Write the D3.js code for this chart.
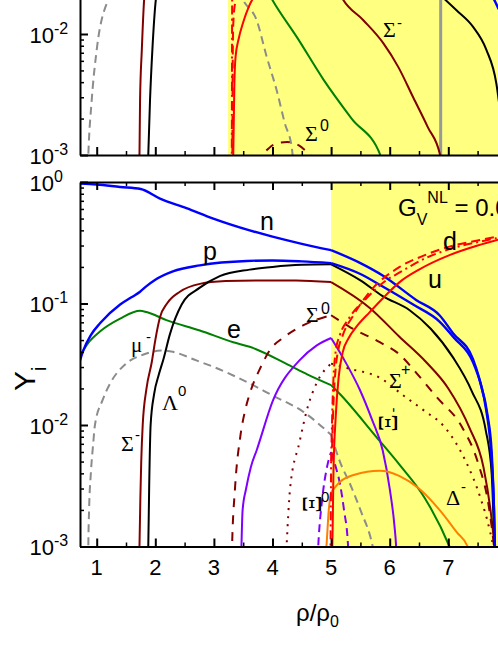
<!DOCTYPE html>
<html>
<head>
<meta charset="utf-8">
<script src="https://cdn.jsdelivr.net/npm/d3@7"></script>
<style>
  body { margin: 0; background: #fff; }
  svg { display: block; font-family: "Liberation Sans", Arial, sans-serif; }
</style>
</head>
<body>
<svg id="chart" width="498" height="645"></svg>
<script>
// ---- data: [rho/rho0, Y_i] ----

// lower panel (G_V^NL = 0.0)
const nData = [[0.715,0.97],[1.0,0.955],[1.4,0.91],[1.75,0.875],[2.08,0.73],[2.53,0.61],[2.99,0.5],[3.61,0.4],[4.0,0.355],[4.5,0.31],[5.0,0.275],[5.5,0.215],[5.88,0.17],[6.45,0.107],[6.85,0.08],[7.08,0.057],[7.42,0.035],[7.53,0.024],[7.65,0.013],[7.73,0.006],[7.78,0.002],[7.8,0.0008]];
const pData = [[0.715,0.034],[0.77,0.041],[0.9,0.055],[1.06,0.069],[1.4,0.098],[1.6,0.113],[1.74,0.125],[1.85,0.139],[2.0,0.157],[2.3,0.184],[2.76,0.206],[3.56,0.224],[4.0,0.226],[4.5,0.222],[5.0,0.215],[5.5,0.175],[5.88,0.138],[6.4,0.098],[6.85,0.071],[7.1,0.052],[7.42,0.033],[7.55,0.022],[7.67,0.012],[7.74,0.006],[7.78,0.002],[7.8,0.0008]];
const eData = [[0.715,0.037],[0.85,0.047],[1.06,0.059],[1.4,0.075],[1.74,0.087],[1.85,0.085],[2.19,0.073],[2.76,0.06],[3.33,0.048],[3.61,0.044],[4.23,0.032],[4.6,0.026],[5.0,0.0213],[5.15,0.018],[5.77,0.008],[6.17,0.0047],[6.6,0.0025],[7.02,0.001],[7.1,0.0008]];
const muData = [[0.855,0.0008],[0.857,0.001],[0.87,0.002],[0.9,0.004],[0.94,0.007],[0.97,0.01],[1.1,0.016],[1.23,0.022],[1.5,0.032],[1.8,0.038],[2.1,0.041],[2.3,0.04],[2.7,0.034],[3.0,0.03],[3.56,0.0226],[4.0,0.0175],[4.52,0.0129],[5.0,0.0083],[5.15,0.005],[5.32,0.0033],[5.5,0.002],[5.71,0.001],[5.75,0.0008]];
const lamData = [[1.875,0.0008],[1.88,0.001],[1.895,0.003],[1.92,0.01],[1.98,0.018],[2.06,0.026],[2.14,0.035],[2.25,0.056],[2.45,0.098],[2.76,0.135],[3.1,0.168],[3.61,0.19],[4.0,0.2],[4.5,0.208],[5.0,0.21],[5.5,0.155],[5.88,0.115],[6.34,0.088],[6.7,0.062],[7.08,0.036],[7.4,0.019],[7.64,0.009],[7.74,0.004],[7.79,0.001],[7.8,0.0008]];
const sigMData = [[1.725,0.0008],[1.73,0.001],[1.745,0.0025],[1.76,0.005],[1.785,0.01],[1.85,0.02],[1.94,0.033],[2.0,0.05],[2.08,0.077],[2.2,0.1],[2.42,0.125],[2.76,0.145],[3.2,0.153],[3.8,0.155],[4.4,0.155],[5.0,0.15],[5.66,0.092],[6.17,0.053],[6.62,0.033],[7.0,0.02],[7.36,0.0095],[7.6,0.0045],[7.72,0.002],[7.79,0.001],[7.81,0.0008]];
const sig0Data = [[3.305,0.0008],[3.31,0.001],[3.36,0.003],[3.45,0.008],[3.53,0.013],[3.61,0.018],[3.8,0.03],[3.95,0.041],[4.2,0.053],[4.52,0.066],[5.0,0.08],[5.32,0.064],[5.83,0.048],[6.17,0.038],[6.45,0.027],[6.8,0.017],[7.24,0.0095],[7.5,0.005],[7.7,0.002],[7.78,0.001],[7.8,0.0008]];
const sigPData = [[4.23,0.0008],[4.24,0.001],[4.3,0.003],[4.46,0.0072],[4.6,0.014],[4.75,0.022],[5.0,0.032],[5.32,0.029],[5.83,0.0245],[6.22,0.0177],[6.6,0.013],[6.93,0.0097],[7.3,0.005],[7.55,0.0025],[7.7,0.0014],[7.76,0.001],[7.78,0.0008]];
const xiMData = [[3.465,0.0008],[3.47,0.001],[3.49,0.002],[3.55,0.003],[3.63,0.0045],[3.73,0.0062],[4.01,0.016],[4.46,0.034],[4.75,0.045],[5.0,0.052],[5.26,0.032],[5.49,0.0195],[5.7,0.011],[5.88,0.0062],[6.0,0.003],[6.08,0.0015],[6.11,0.001],[6.12,0.0008]];
const xi0Data = [[4.77,0.0008],[4.78,0.001],[4.85,0.0025],[4.93,0.0045],[5.0,0.006],[5.08,0.0045],[5.15,0.0033],[5.22,0.002],[5.29,0.001],[5.3,0.0008]];
const deltaData = [[4.9,0.0008],[4.92,0.001],[4.96,0.002],[5.0,0.0028],[5.15,0.0034],[5.4,0.0039],[5.83,0.0042],[6.17,0.0038],[6.5,0.003],[6.85,0.002],[7.15,0.0013],[7.33,0.001],[7.37,0.0008]];
const uData = [[5.0,0.0008],[5.02,0.001],[5.04,0.004],[5.08,0.012],[5.13,0.025],[5.2,0.04],[5.3,0.052],[5.45,0.066],[5.66,0.085],[5.88,0.11],[6.17,0.15],[6.5,0.19],[7.02,0.25],[7.5,0.3],[7.9,0.34]];
const dData = [[4.99,0.0008],[4.995,0.001],[5.01,0.005],[5.04,0.015],[5.08,0.03],[5.12,0.041],[5.2,0.055],[5.38,0.08],[5.66,0.125],[6.17,0.2],[6.6,0.25],[7.02,0.294],[7.5,0.33],[7.9,0.36]];
const sData = [[4.985,0.0008],[4.99,0.001],[5.0,0.005],[5.03,0.018],[5.08,0.041],[5.15,0.055],[5.3,0.075],[5.6,0.11],[5.94,0.155],[6.17,0.18],[6.6,0.235],[7.02,0.28],[7.5,0.32],[7.9,0.35]];

// upper panel
const muTopRise = [[0.85,0.0008],[0.857,0.001],[0.915,0.00285],[1.0,0.0074],[1.2,0.0194],[1.25,0.022]];
const muTopFall = [[3.42,0.023],[3.5,0.019],[3.73,0.013],[3.9,0.0065],[4.07,0.00344],[4.21,0.00183],[4.33,0.00114],[4.36,0.0008]];
const sigMTopL = [[1.725,0.0008],[1.73,0.001],[1.74,0.00285],[1.77,0.0074],[1.81,0.0194],[1.83,0.024]];
const sigMTopR = [[5.1,0.024],[5.2,0.0194],[5.55,0.013],[5.89,0.0084],[6.15,0.0053],[6.4,0.003],[6.65,0.0017],[6.86,0.001],[6.9,0.0008]];
const lamTopL = [[1.875,0.0008],[1.88,0.001],[1.91,0.00285],[1.95,0.0074],[2.01,0.0194],[2.04,0.024]];
const lamTopR = [[6.86,0.021],[7.14,0.0157],[7.42,0.0115],[7.65,0.0074],[7.82,0.0039],[7.9,0.002]];
const eTop = [[3.95,0.021],[3.99,0.0194],[4.43,0.0092],[4.87,0.0042],[5.35,0.002],[5.84,0.001],[5.9,0.0008]];
const sig0Top = [[3.83,0.0008],[3.85,0.001],[3.95,0.00115],[4.1,0.00126],[4.25,0.00128],[4.45,0.0012],[4.6,0.00105],[4.65,0.001],[4.68,0.0008]];
const uTop = [[3.325,0.0008],[3.33,0.001],[3.34,0.002],[3.35,0.004],[3.37,0.0065],[3.42,0.009],[3.5,0.0125],[3.6,0.017],[3.7,0.021]];
const dTop = [[3.31,0.0008],[3.315,0.001],[3.32,0.005],[3.33,0.012],[3.36,0.018],[3.4,0.022]];
const sTop = [[3.305,0.0008],[3.308,0.003],[3.31,0.01],[3.312,0.022]];
const nTop = [[7.74,0.021],[7.8,0.0185],[7.86,0.016]];

const xTicks = [1, 2, 3, 4, 5, 6, 7];
const xMinor = [1.5, 2.5, 3.5, 4.5, 5.5, 6.5, 7.5];
const yTicksB = [1, 0.1, 0.01, 0.001];
const yTicksT = [0.01, 0.001];
const mixedStartB = 5.0;
const mixedStartT = 3.24;
const grayLineT = 6.87;

// ---- scales ----
const svg = d3.select("#chart");
const x = d3.scaleLinear().domain([0.715, 8]).range([80, 506.9]);
const yB = d3.scaleLog().domain([1e-3, 1]).range([546.5, 182]);
const yT = d3.scaleLog().domain([1e-3, 1e-1]).range([155, 155 - 242]);

const defs = svg.append("defs");
defs.append("clipPath").attr("id", "clipB").append("rect")
  .attr("x", 80).attr("y", 182).attr("width", 430).attr("height", 546.5 - 182);
defs.append("clipPath").attr("id", "clipT").append("rect")
  .attr("x", 80).attr("y", -100).attr("width", 430).attr("height", 255);

// yellow (mixed phase) areas
svg.append("rect").attr("x", x(mixedStartB)).attr("y", 182)
  .attr("width", 498 - x(mixedStartB)).attr("height", 546.5 - 182).attr("fill", "#ffff80");
svg.append("rect").attr("x", x(mixedStartT)).attr("y", 0)
  .attr("width", 498 - x(mixedStartT)).attr("height", 155).attr("fill", "#ffff80");

const BLUE = "#0000ff", MAROON = "#800000", GREEN = "#008000", GRAY = "#8c8c8c",
      PURPLE = "#8000ff", ORANGE = "#ff8000", RED = "#ff0000";

const seriesB = [
  { d: muData, c: GRAY, dash: "8,5" },
  { d: eData, c: GREEN },
  { d: xi0Data, c: PURPLE, dash: "8,5" },
  { d: xiMData, c: PURPLE },
  { d: deltaData, c: ORANGE },
  { d: sigPData, c: MAROON, dash: "2,6" },
  { d: sig0Data, c: MAROON, dash: "9,8" },
  { d: sigMData, c: MAROON },
  { d: lamData, c: "#000" },
  { d: pData, c: BLUE, w: 2.4 },
  { d: nData, c: BLUE, w: 2.4 },
  { d: sData, c: RED, dash: "9,4,2,4" },
  { d: dData, c: RED, dash: "9,5" },
  { d: uData, c: RED }
];

const seriesT = [
  { d: muTopRise, c: GRAY, dash: "8,5" },
  { d: muTopFall, c: GRAY, dash: "8,5" },
  { d: eTop, c: GREEN },
  { d: sig0Top, c: MAROON, dash: "9,8" },
  { d: sigMTopL, c: MAROON },
  { d: sigMTopR, c: MAROON },
  { d: lamTopL, c: "#000" },
  { d: lamTopR, c: "#000" },
  { d: nTop, c: BLUE, w: 2.4 },
  { d: sTop, c: RED, dash: "9,4,2,4" },
  { d: dTop, c: RED, dash: "9,5" },
  { d: uTop, c: RED }
];

function drawSeries(list, y, clip, split) {
  const g = svg.append("g").attr("clip-path", `url(#${clip})`);
  const line = d3.line()
    .x(d => x(d[0]))
    .y(d => y(d[1]))
    .curve(d3.curveMonotoneX);
  list.forEach(s => {
    const parts = split
      ? [s.d.filter(p => p[0] <= split), s.d.filter(p => p[0] >= split)]
      : [s.d];
    parts.filter(p => p.length > 1).forEach(p => {
      g.append("path")
        .attr("d", line(p))
        .attr("fill", "none")
        .attr("stroke", s.c)
        .attr("stroke-width", s.w || 2)
        .attr("stroke-dasharray", s.dash || null);
    });
  });
  return g;
}

// gray marker line in upper panel
svg.append("line")
  .attr("x1", x(grayLineT)).attr("x2", x(grayLineT))
  .attr("y1", 0).attr("y2", 155)
  .attr("stroke", "#999").attr("stroke-width", 3);

drawSeries(seriesT, yT, "clipT", null);
drawSeries(seriesB, yB, "clipB", mixedStartB);

// ---- axes ----
function styleAxis(g, w) {
  g.selectAll(".domain").attr("stroke", "#000").attr("stroke-width", 2);
  g.selectAll(".tick line").attr("stroke", "#000").attr("stroke-width", w);
  g.selectAll(".tick text").remove();
}

function xAxes(yPos, gen, sign) {
  const major = svg.append("g").attr("transform", `translate(0,${yPos})`)
    .call(gen(x).tickValues(xTicks).tickSize(8 * sign).tickSizeOuter(0));
  styleAxis(major, 2);
  const minor = svg.append("g").attr("transform", `translate(0,${yPos})`)
    .call(gen(x).tickValues(xMinor).tickSize(4 * sign).tickSizeOuter(0));
  styleAxis(minor, 1.5);
  minor.select(".domain").remove();
}

function minorLog(y) {
  const [lo, hi] = y.domain();
  const out = [];
  for (let e = Math.floor(Math.log10(lo)); e < Math.ceil(Math.log10(hi)); e++) {
    for (let m = 2; m <= 9; m++) {
      const v = m * Math.pow(10, e);
      if (v > lo && v < hi) out.push(v);
    }
  }
  return out;
}

function yAxis(y, majors) {
  const major = svg.append("g").attr("transform", "translate(80,0)")
    .call(d3.axisLeft(y).tickValues(majors).tickSize(-8).tickSizeOuter(0));
  styleAxis(major, 2);
  const minor = svg.append("g").attr("transform", "translate(80,0)")
    .call(d3.axisLeft(y).tickValues(minorLog(y)).tickSize(-4).tickSizeOuter(0));
  styleAxis(minor, 1.5);
  minor.select(".domain").remove();
  majors.forEach(v => {
    const yy = y(v);
    const ex = Math.round(Math.log10(v));
    svg.append("text").attr("x", 54).attr("y", yy + 8.5)
      .attr("text-anchor", "end").attr("font-size", 22).text("10");
    svg.append("text").attr("x", 54).attr("y", yy - 0.5)
      .attr("font-size", 16).text(ex === 0 ? "0" : String(ex));
  });
}

// upper panel
xAxes(155, d3.axisBottom, -1);
yAxis(yT, yTicksT);

// lower panel
xAxes(546.5, d3.axisBottom, -1);
xAxes(182, d3.axisTop, -1);
yAxis(yB, yTicksB);

// x tick labels
xTicks.forEach(v => {
  svg.append("text").attr("x", x(v)).attr("y", 575)
    .attr("text-anchor", "middle").attr("font-size", 22).text(v);
});

// axis titles
const xt = svg.append("text").attr("x", 296).attr("y", 621).attr("font-size", 24);
xt.append("tspan").text("ρ/ρ");
xt.append("tspan").attr("font-size", 16).attr("dy", 6).text("0");

const yt = svg.append("text").attr("transform", "translate(35,391) rotate(-90)").attr("font-size", 30);
yt.append("tspan").text("Y");
yt.append("tspan").attr("font-size", 20).attr("dy", 11).text("i");

// ---- curve labels ----
const SERIF = "'Liberation Serif','Times New Roman',serif";
function label(txt, px, py, size, opts = {}) {
  const t = svg.append("text").attr("x", px).attr("y", py).attr("font-size", size).text(txt);
  if (opts.serif) t.attr("font-family", SERIF);
  if (opts.rot) t.attr("transform", `rotate(${opts.rot},${px},${py})`).attr("text-anchor", "middle");
  return t;
}

// upper panel
label("Σ", 383, 37, 22, { serif: true });
label("-", 397, 28, 15);
label("Σ", 305, 141, 22, { serif: true });
label("0", 320, 131, 16);

// lower panel
label("n", 260, 230, 25);
label("p", 203, 260, 25);
label("e", 227, 338, 25);
label("μ", 131, 352, 21, { serif: true });
label("-", 146, 342, 15);
label("Λ", 162, 410, 22, { serif: true });
label("0", 178, 396, 15);
label("Σ", 121, 451, 22, { serif: true });
label("-", 135, 440, 15);
label("Σ", 306, 322, 22, { serif: true });
label("0", 321, 314, 16);
label("Σ", 389, 388, 22, { serif: true });
label("+", 401, 375, 16);
label("Ξ", 397, 423, 27, { serif: true, rot: -90 });
label("-", 398, 410, 15, { rot: -90 });
label("Ξ", 321, 504, 27, { serif: true, rot: -90 });
label("0", 321, 502, 15);
label("Δ", 446, 505, 22, { serif: true });
label("-", 461, 492, 15);
label("d", 443, 250, 25);
label("u", 428, 288, 25);

const gv = svg.append("text").attr("x", 398).attr("y", 216).attr("font-size", 24);
gv.append("tspan").text("G");
gv.append("tspan").attr("font-size", 16).attr("dy", 9).text("V");
gv.append("tspan").attr("font-size", 16).attr("dy", -22).text("NL");
gv.append("tspan").attr("dy", 13).text(" = 0.0");
</script>
</body>
</html>
